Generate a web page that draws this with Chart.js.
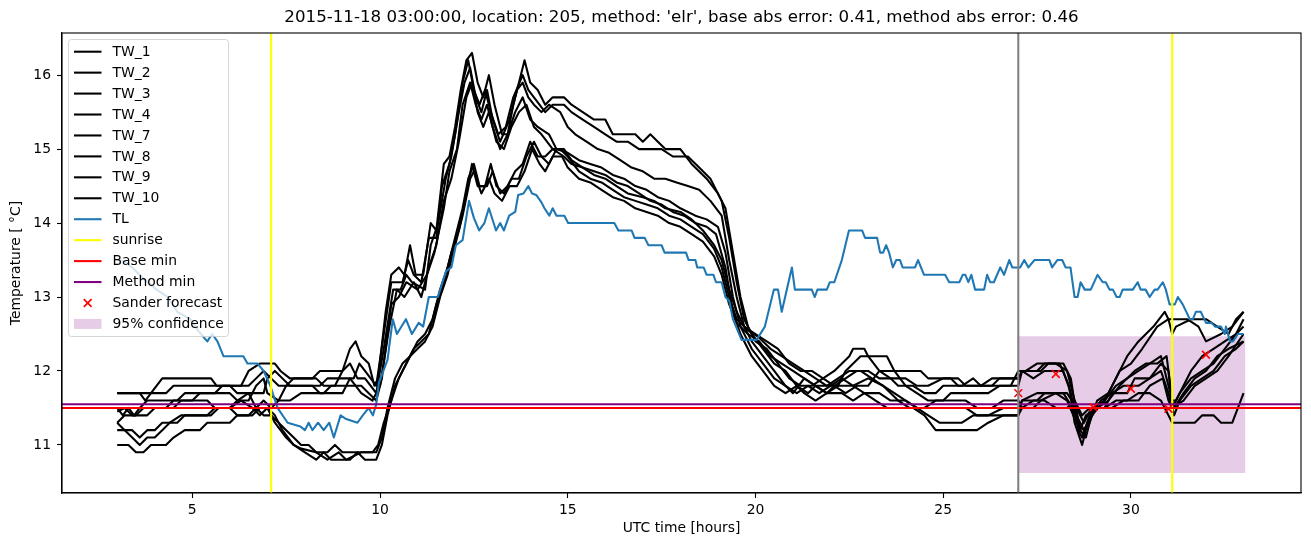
<!DOCTYPE html>
<html><head><meta charset="utf-8">
<script src="https://cdn.jsdelivr.net/npm/chart.js@4.4.0/dist/chart.umd.min.js"></script>
<style>html,body{margin:0;padding:0;background:#fff}canvas{display:block}</style>
</head><body>
<canvas id="c" width="1311" height="547"></canvas>
<script>
// ---------------- DATA ----------------
const titleText = "2015-11-18 03:00:00, location: 205, method: 'elr', base abs error: 0.41, method abs error: 0.46";
const xLabel = "UTC time [hours]";
const yLabel = "Temperature [ \u00B0C]";
const xRange = [1.53, 34.53];
const yRange = [10.35, 16.57];
const xTickStep = 5;
const yTickStep = 1;

const twNames = ['TW_1','TW_2','TW_3','TW_4','TW_7','TW_8','TW_9','TW_10'];

const tw1 = [[3.0,11.7],[3.6,11.7],[3.75,11.6],[3.9,11.7],[4.2,11.9],[5.5,11.9],[5.65,11.8],[6.3,11.8],[6.5,12.0],[6.8,12.1],[7.2,12.1],[7.35,12.0],[7.6,11.9],[8.2,11.9],[8.4,12.0],[9.0,12.0],[9.2,12.3],[9.35,12.4],[9.5,12.2],[9.7,12.1],[9.85,11.8],[9.95,11.9],[10.15,12.8],[10.3,13.3],[10.5,13.4],[10.65,13.3],[10.8,13.7],[10.95,13.3],[11.15,13.3],[11.35,14.0],[11.5,13.9],[11.7,14.8],[11.85,14.9],[12.0,15.3],[12.15,15.8],[12.3,16.2],[12.45,16.3],[12.6,15.9],[12.75,15.7],[12.9,16.0],[13.05,15.6],[13.25,15.2],[13.4,15.2],[13.55,15.6],[13.75,16.0],[13.85,16.2],[14.0,15.9],[14.2,15.8],[14.4,15.6],[14.6,15.7],[14.9,15.7],[15.1,15.6],[15.4,15.5],[15.7,15.4],[16.0,15.4],[16.2,15.2],[16.8,15.2],[17.0,15.1],[17.2,15.2],[17.4,15.1],[17.6,15.0],[18.0,15.0],[18.3,14.8],[18.7,14.6],[19.0,14.4],[19.2,14.2],[19.4,13.6],[19.6,13.0],[19.8,12.6],[20.0,12.4],[20.3,12.3],[20.6,12.1],[20.9,11.9],[21.2,11.8],[21.5,11.8],[21.8,11.9],[22.1,12.0],[22.5,12.2],[22.6,12.3],[22.9,12.3],[23.0,12.2],[23.3,12.0],[23.6,11.9],[23.8,11.8],[24.2,11.8],[24.5,11.7],[24.8,11.7],[25.0,11.8],[25.5,11.8],[25.8,11.9],[26.0,11.8],[26.8,11.8],[27.0,12.0],[27.2,12.0],[27.5,12.1],[28.0,12.1],[28.3,12.0],[28.5,11.6],[28.65,11.2],[28.8,11.1],[29.0,11.5],[29.3,11.6],[29.6,11.9],[29.9,12.2],[30.2,12.4],[30.6,12.6],[30.9,12.8],[31.0,12.7],[31.1,12.5],[31.2,12.6],[31.6,12.7],[32.0,12.7],[32.3,12.6],[32.6,12.5],[32.8,12.7],[33.0,12.8]];
const tw2 = [[3.0,11.7],[4.3,11.7],[4.5,11.8],[6.0,11.8],[6.2,11.7],[6.9,11.7],[7.0,11.9],[7.2,12.0],[7.4,11.9],[7.6,11.8],[8.4,11.8],[8.6,11.9],[9.3,11.9],[9.45,12.1],[9.6,12.0],[9.9,11.8],[10.1,12.5],[10.3,13.2],[10.6,13.2],[10.75,13.5],[10.9,13.3],[11.1,13.2],[11.3,13.8],[11.5,13.8],[11.65,14.5],[11.85,14.8],[12.0,15.2],[12.2,15.9],[12.35,16.2],[12.5,15.8],[12.65,15.6],[12.8,15.8],[12.95,15.5],[13.15,15.2],[13.35,15.3],[13.55,15.7],[13.8,16.0],[13.95,15.8],[14.1,15.7],[14.4,15.5],[14.6,15.6],[14.9,15.6],[15.1,15.5],[15.4,15.4],[15.7,15.3],[16.0,15.2],[16.3,15.1],[16.6,15.1],[16.9,15.0],[17.5,15.0],[17.8,14.9],[18.2,14.9],[18.5,14.75],[18.8,14.6],[19.1,14.3],[19.3,13.8],[19.5,13.2],[19.7,12.7],[19.9,12.5],[20.2,12.3],[20.5,12.1],[20.8,12.0],[21.1,11.8],[21.4,11.7],[21.6,11.8],[22.2,11.8],[22.4,12.0],[22.8,12.2],[23.5,12.2],[23.7,12.0],[24.4,12.0],[24.6,11.9],[25.2,11.9],[25.4,11.8],[26.3,11.8],[26.5,11.9],[27.0,11.9],[27.1,12.0],[27.6,12.0],[27.8,12.1],[28.2,12.1],[28.4,11.9],[28.55,11.4],[28.75,11.2],[28.9,11.3],[29.1,11.6],[29.4,11.7],[29.7,12.0],[30.0,12.1],[30.3,12.3],[30.7,12.6],[31.0,12.7],[31.5,12.7],[31.8,12.6],[32.0,12.4],[32.4,12.5],[32.7,12.6],[33.0,12.8]];
const tw3 = [[3.0,11.2],[3.2,11.2],[3.4,11.1],[3.6,11.0],[3.8,11.1],[4.0,11.1],[4.2,11.2],[4.4,11.3],[4.7,11.4],[5.5,11.4],[5.7,11.5],[6.0,11.5],[6.2,11.4],[6.5,11.4],[6.7,11.5],[6.9,11.4],[7.1,11.4],[7.3,11.3],[7.5,11.2],[7.7,11.1],[7.9,11.0],[8.1,11.0],[8.3,10.9],[8.6,10.9],[8.8,11.0],[9.0,10.9],[9.8,10.9],[9.95,11.0],[10.1,11.3],[10.3,11.6],[10.5,11.9],[10.7,12.1],[10.9,12.3],[11.1,12.4],[11.3,12.5],[11.5,12.9],[11.7,13.2],[11.9,13.6],[12.1,13.9],[12.3,14.4],[12.45,14.8],[12.6,14.5],[12.8,14.5],[12.95,14.8],[13.1,14.5],[13.3,14.4],[13.5,14.6],[13.7,14.6],[13.9,14.9],[14.1,15.1],[14.3,14.9],[14.5,14.8],[14.7,15.0],[14.9,15.0],[15.1,14.85],[15.4,14.75],[15.7,14.65],[16.0,14.6],[16.3,14.5],[16.6,14.4],[17.0,14.35],[17.3,14.3],[17.6,14.2],[18.0,14.15],[18.3,14.05],[18.6,13.9],[18.9,13.7],[19.1,13.5],[19.3,13.1],[19.5,12.8],[19.7,12.6],[20.0,12.5],[20.3,12.4],[20.6,12.3],[20.9,12.1],[21.2,12.0],[21.5,12.0],[21.8,11.9],[22.1,11.8],[22.4,11.9],[22.7,12.0],[23.0,12.0],[23.3,11.9],[23.6,11.9],[24.0,11.9],[24.3,11.8],[24.6,11.8],[25.0,11.9],[25.4,11.9],[25.6,11.8],[26.0,11.8],[26.3,11.9],[27.0,11.9],[27.1,12.0],[27.4,11.9],[27.7,12.0],[28.2,12.0],[28.4,11.7],[28.6,11.2],[28.7,11.1],[28.9,11.4],[29.2,11.6],[29.5,11.7],[29.8,11.8],[30.2,11.8],[30.5,11.9],[30.8,12.1],[31.0,12.0],[31.1,11.5],[31.3,11.7],[31.6,11.9],[31.9,12.0],[32.2,12.1],[32.5,12.3],[32.8,12.5],[33.0,12.7]];
const tw4 = [[3.0,11.5],[3.15,11.4],[3.3,11.5],[3.45,11.4],[3.6,11.5],[3.8,11.6],[4.6,11.6],[4.8,11.7],[5.6,11.7],[5.8,11.8],[6.5,11.8],[6.7,11.9],[6.9,12.0],[7.1,11.9],[7.3,11.8],[7.5,11.8],[7.7,11.9],[8.3,11.9],[8.5,11.8],[8.8,11.8],[9.0,12.0],[9.2,12.1],[9.4,11.9],[9.6,11.9],[9.9,11.7],[10.1,12.3],[10.35,13.1],[10.55,13.1],[10.7,13.3],[10.85,13.2],[11.2,13.1],[11.35,13.7],[11.55,14.0],[11.75,14.6],[11.9,14.9],[12.1,15.5],[12.25,15.9],[12.4,16.1],[12.55,15.7],[12.7,15.5],[12.85,15.8],[13.0,15.4],[13.2,15.1],[13.45,15.4],[13.65,15.8],[13.8,15.9],[13.95,15.7],[14.1,15.6],[14.3,15.5],[14.5,15.6],[14.8,15.5],[15.0,15.3],[15.2,15.2],[15.5,15.1],[15.8,15.0],[16.1,14.95],[16.4,14.85],[16.7,14.75],[17.0,14.7],[17.3,14.6],[17.6,14.6],[17.9,14.55],[18.2,14.5],[18.5,14.45],[18.8,14.3],[19.1,14.1],[19.3,13.5],[19.5,13.0],[19.7,12.6],[19.9,12.4],[20.2,12.2],[20.5,12.0],[20.8,11.8],[21.0,11.7],[21.3,11.9],[21.6,11.8],[21.9,11.7],[22.1,11.8],[22.4,11.7],[22.7,11.8],[23.0,11.8],[23.3,12.0],[23.7,12.0],[24.0,11.8],[24.3,11.7],[24.6,11.6],[25.0,11.6],[25.2,11.7],[26.2,11.7],[26.5,11.8],[27.0,11.8],[27.1,12.0],[27.5,12.0],[27.7,12.1],[28.1,12.1],[28.35,11.8],[28.5,11.3],[28.7,11.0],[28.85,11.3],[29.1,11.5],[29.4,11.6],[29.7,11.8],[30.1,12.0],[30.4,12.1],[30.7,12.1],[30.95,12.2],[31.1,11.6],[31.2,11.6],[31.4,11.8],[31.6,12.0],[31.9,12.2],[32.2,12.3],[32.5,12.4],[32.8,12.5],[33.0,12.6]];
const tw7 = [[3.0,11.45],[3.2,11.5],[3.4,11.4],[3.8,11.4],[4.0,11.5],[4.3,11.5],[4.5,11.6],[5.0,11.6],[5.2,11.7],[6.0,11.7],[6.2,11.6],[6.5,11.6],[6.7,11.8],[6.9,11.9],[7.0,11.7],[7.3,11.6],[7.6,11.6],[7.9,11.7],[8.5,11.7],[8.7,11.8],[9.5,11.8],[9.7,11.7],[9.9,11.6],[10.05,11.9],[10.3,12.9],[10.5,13.0],[10.7,13.2],[11.0,13.1],[11.25,13.3],[11.45,13.6],[11.7,14.2],[11.85,14.7],[12.05,15.0],[12.2,15.6],[12.4,15.9],[12.55,15.6],[12.7,15.4],[12.85,15.6],[13.0,15.3],[13.2,15.0],[13.4,15.2],[13.6,15.5],[13.8,15.7],[14.0,15.4],[14.2,15.3],[14.5,15.2],[14.7,15.0],[15.0,14.95],[15.3,14.85],[15.6,14.8],[15.9,14.75],[16.2,14.65],[16.5,14.6],[16.8,14.5],[17.1,14.45],[17.4,14.35],[17.7,14.3],[18.0,14.2],[18.4,14.1],[18.7,14.05],[19.0,13.95],[19.2,13.6],[19.4,13.0],[19.6,12.6],[19.9,12.3],[20.2,12.1],[20.5,11.9],[20.8,11.8],[21.1,11.7],[21.4,11.8],[21.7,11.7],[22.0,11.8],[22.3,11.9],[22.6,11.8],[23.0,11.9],[23.4,11.8],[23.8,11.6],[24.1,11.5],[24.5,11.5],[24.8,11.6],[25.6,11.6],[25.9,11.5],[26.3,11.5],[26.6,11.6],[27.0,11.6],[27.1,11.5],[27.4,11.5],[27.6,11.6],[28.0,11.7],[28.3,11.7],[28.55,11.5],[28.75,11.3],[28.95,11.5],[29.3,11.5],[29.5,11.7],[29.9,11.7],[30.1,11.9],[30.5,11.9],[30.8,12.0],[31.0,11.7],[31.15,11.4],[31.3,11.6],[31.6,11.8],[31.9,11.9],[32.2,12.0],[32.5,12.2],[32.8,12.3],[33.0,12.4]];
const tw8 = [[3.0,11.0],[3.3,11.0],[3.5,10.9],[3.7,10.9],[3.9,11.0],[4.3,11.0],[4.5,11.1],[4.8,11.2],[5.2,11.2],[5.4,11.3],[6.0,11.3],[6.2,11.4],[6.6,11.4],[6.8,11.5],[7.0,11.5],[7.2,11.4],[7.4,11.2],[7.7,11.0],[8.0,10.9],[8.3,10.8],[8.5,10.9],[8.7,10.8],[9.2,10.8],[9.4,10.9],[9.6,10.8],[9.9,10.8],[10.05,11.0],[10.2,11.4],[10.4,11.8],[10.6,12.0],[10.8,12.2],[11.0,12.3],[11.2,12.4],[11.4,12.6],[11.6,13.0],[11.8,13.3],[12.0,13.7],[12.2,14.1],[12.4,14.6],[12.5,14.7],[12.7,14.4],[12.9,14.6],[13.05,14.4],[13.25,14.3],[13.45,14.5],[13.65,14.5],[13.85,14.7],[14.05,15.0],[14.25,14.8],[14.4,14.7],[14.6,14.9],[14.85,14.9],[15.0,14.75],[15.3,14.6],[15.6,14.55],[15.9,14.45],[16.2,14.35],[16.5,14.3],[16.8,14.2],[17.1,14.15],[17.4,14.1],[17.7,14.0],[18.0,13.95],[18.3,13.85],[18.6,13.75],[18.9,13.55],[19.1,13.3],[19.3,12.9],[19.5,12.65],[19.8,12.5],[20.1,12.4],[20.4,12.2],[20.7,12.1],[21.0,12.0],[21.3,11.9],[21.6,11.8],[21.9,11.7],[22.2,11.8],[22.6,11.8],[22.9,11.7],[23.2,11.6],[23.5,11.5],[24.2,11.5],[24.5,11.4],[24.8,11.2],[25.9,11.2],[26.2,11.3],[26.6,11.4],[27.0,11.4],[27.1,11.5],[27.4,11.6],[27.7,11.6],[28.0,11.5],[28.3,11.5],[28.5,11.6],[28.7,11.4],[28.9,11.5],[29.3,11.5],[29.6,11.6],[29.9,11.6],[30.2,11.7],[30.5,11.7],[30.8,11.6],[31.0,11.4],[31.1,11.3],[31.5,11.3],[31.7,11.3],[31.9,11.4],[32.2,11.4],[32.4,11.3],[32.7,11.3],[32.85,11.5],[33.0,11.7]];
const tw9 = [[3.0,11.3],[3.2,11.4],[3.5,11.4],[3.7,11.5],[4.5,11.5],[4.7,11.6],[5.4,11.6],[5.6,11.5],[6.0,11.5],[6.2,11.6],[6.5,11.7],[6.7,11.5],[6.9,11.6],[7.1,11.5],[7.3,11.6],[7.5,11.8],[8.2,11.8],[8.4,11.7],[9.0,11.7],[9.2,11.9],[9.5,11.7],[9.8,11.6],[10.0,11.8],[10.25,12.6],[10.45,13.1],[10.65,13.0],[10.9,13.2],[11.1,13.0],[11.3,13.4],[11.5,13.7],[11.7,14.3],[11.9,14.6],[12.1,15.1],[12.3,15.7],[12.45,15.9],[12.6,15.5],[12.75,15.3],[12.9,15.5],[13.1,15.1],[13.3,15.0],[13.5,15.3],[13.7,15.5],[13.9,15.6],[14.1,15.3],[14.3,15.2],[14.6,15.0],[14.9,14.9],[15.1,14.8],[15.4,14.75],[15.7,14.7],[16.0,14.65],[16.3,14.55],[16.6,14.5],[16.9,14.4],[17.2,14.3],[17.5,14.25],[17.8,14.15],[18.1,14.1],[18.4,14.0],[18.7,13.95],[18.95,13.85],[19.2,13.4],[19.4,12.8],[19.6,12.5],[19.9,12.2],[20.2,12.0],[20.5,11.8],[20.8,11.7],[21.1,11.8],[21.3,11.7],[21.6,11.6],[21.9,11.7],[22.3,11.7],[22.6,11.6],[22.9,11.7],[23.3,11.7],[23.6,11.6],[24.0,11.6],[24.3,11.5],[25.6,11.5],[25.9,11.4],[26.5,11.4],[27.0,11.4],[27.1,11.6],[27.5,11.6],[27.7,11.7],[28.2,11.7],[28.45,11.5],[28.65,11.2],[28.8,11.4],[29.1,11.5],[29.5,11.5],[29.8,11.6],[30.2,11.6],[30.5,11.8],[30.85,11.9],[31.0,11.6],[31.1,11.5],[31.4,11.6],[31.7,11.8],[32.0,11.9],[32.3,12.0],[32.6,12.2],[33.0,12.5]];
const tw10 = [[3.0,11.3],[3.2,11.2],[3.4,11.2],[3.6,11.1],[3.8,11.2],[4.0,11.2],[4.2,11.3],[4.6,11.3],[4.8,11.4],[5.4,11.4],[5.6,11.5],[6.0,11.5],[6.3,11.6],[6.6,11.5],[6.8,11.4],[7.0,11.5],[7.2,11.3],[7.5,11.1],[7.7,11.0],[7.9,10.95],[8.3,10.9],[8.6,10.8],[8.9,10.9],[9.1,10.8],[9.5,10.9],[9.9,10.9],[10.05,11.1],[10.2,11.5],[10.4,11.9],[10.6,12.1],[10.8,12.2],[11.0,12.4],[11.2,12.5],[11.4,12.7],[11.6,13.1],[11.8,13.4],[12.0,13.8],[12.2,14.2],[12.35,14.6],[12.5,14.8],[12.65,14.5],[12.85,14.5],[13.0,14.7],[13.2,14.4],[13.4,14.5],[13.6,14.7],[13.8,14.8],[14.0,15.1],[14.2,14.9],[14.4,14.9],[14.6,15.0],[14.8,15.0],[15.0,14.9],[15.3,14.7],[15.6,14.6],[15.9,14.55],[16.2,14.45],[16.5,14.35],[16.8,14.3],[17.1,14.25],[17.4,14.2],[17.7,14.1],[18.0,14.05],[18.3,13.95],[18.6,13.85],[18.9,13.65],[19.1,13.4],[19.3,13.0],[19.5,12.7],[19.8,12.55],[20.1,12.45],[20.4,12.3],[20.7,12.2],[21.0,12.1],[21.3,12.0],[21.6,11.9],[21.9,11.8],[22.2,11.9],[22.5,12.0],[22.8,12.0],[23.1,11.9],[23.4,11.8],[23.7,11.7],[24.0,11.6],[24.3,11.5],[24.6,11.4],[24.9,11.3],[25.5,11.3],[25.8,11.4],[26.2,11.4],[26.6,11.5],[27.0,11.5],[27.1,11.6],[27.5,11.7],[28.0,11.7],[28.3,11.6],[28.55,11.3],[28.75,11.2],[28.95,11.4],[29.3,11.6],[29.6,11.8],[29.9,11.9],[30.2,12.0],[30.5,12.1],[30.8,12.2],[31.0,11.8],[31.15,11.5],[31.4,11.7],[31.7,11.9],[32.0,12.0],[32.3,12.2],[32.6,12.3],[33.0,12.4]];

const tl = [[3.0,13.5],[3.1,13.5],[3.4,13.4],[3.7,13.25],[4.05,13.1],[4.35,13.0],[4.6,12.8],[4.95,12.7],[5.15,12.55],[5.4,12.4],[5.53,12.5],[5.67,12.4],[5.83,12.2],[6.36,12.2],[6.47,12.1],[6.74,12.1],[6.9,12.0],[7.08,11.8],[7.27,11.5],[7.54,11.3],[7.88,11.25],[8.0,11.2],[8.1,11.3],[8.2,11.2],[8.35,11.3],[8.5,11.2],[8.65,11.3],[8.77,11.1],[8.95,11.4],[9.1,11.35],[9.4,11.3],[9.54,11.4],[9.7,11.5],[9.81,11.4],[9.9,11.55],[9.97,11.84],[10.2,12.15],[10.34,12.7],[10.45,12.5],[10.69,12.7],[10.85,12.5],[11.03,12.65],[11.15,12.6],[11.3,13.0],[11.54,13.0],[11.76,13.35],[11.9,13.4],[12.02,13.7],[12.2,13.77],[12.37,14.3],[12.5,14.07],[12.64,13.9],[12.78,14.0],[12.9,14.2],[13.09,13.9],[13.2,14.0],[13.3,13.9],[13.44,14.1],[13.6,14.15],[13.68,14.38],[13.82,14.4],[13.95,14.5],[14.05,14.4],[14.16,14.38],[14.3,14.28],[14.38,14.2],[14.51,14.1],[14.6,14.2],[14.7,14.1],[14.91,14.1],[15.01,14.0],[16.24,14.0],[16.35,13.9],[16.7,13.9],[16.78,13.8],[17.05,13.8],[17.15,13.7],[17.5,13.7],[17.58,13.6],[18.15,13.6],[18.22,13.5],[18.4,13.5],[18.45,13.4],[18.62,13.4],[18.7,13.3],[18.88,13.3],[18.95,13.2],[19.1,13.2],[19.2,13.0],[19.3,12.95],[19.4,12.7],[19.63,12.42],[20.03,12.42],[20.25,12.6],[20.49,13.1],[20.6,13.1],[20.7,12.8],[20.97,13.4],[21.05,13.1],[21.5,13.1],[21.58,13.0],[21.65,13.1],[21.9,13.1],[21.98,13.2],[22.1,13.2],[22.3,13.5],[22.49,13.9],[22.84,13.9],[22.92,13.8],[23.24,13.8],[23.32,13.6],[23.4,13.6],[23.48,13.7],[23.56,13.6],[23.66,13.4],[23.75,13.5],[23.85,13.5],[23.92,13.4],[24.25,13.4],[24.33,13.5],[24.49,13.3],[25.05,13.3],[25.16,13.2],[25.43,13.2],[25.52,13.3],[25.59,13.3],[25.67,13.2],[25.75,13.3],[25.85,13.1],[26.09,13.1],[26.17,13.3],[26.25,13.2],[26.35,13.2],[26.52,13.4],[26.62,13.3],[26.76,13.5],[26.84,13.4],[27.05,13.4],[27.16,13.5],[27.27,13.4],[27.43,13.5],[27.83,13.5],[27.9,13.4],[28.04,13.5],[28.17,13.5],[28.26,13.4],[28.39,13.4],[28.5,13.0],[28.58,13.0],[28.66,13.2],[28.77,13.1],[28.93,13.1],[29.11,13.3],[29.25,13.2],[29.33,13.2],[29.43,13.1],[29.52,13.1],[29.62,13.0],[29.7,13.0],[29.78,13.1],[30.05,13.1],[30.18,13.2],[30.26,13.1],[30.39,13.1],[30.5,13.0],[30.63,13.1],[30.71,13.1],[30.85,13.2],[30.93,13.1],[31.03,12.9],[31.17,12.9],[31.25,13.0],[31.38,12.9],[31.57,12.7],[31.65,12.7],[31.73,12.8],[31.86,12.8],[32.0,12.65],[32.15,12.65],[32.24,12.6],[32.4,12.6],[32.5,12.5],[32.53,12.6],[32.64,12.4],[32.72,12.4],[32.85,12.5],[33.0,12.5]];

const sunriseHours = [7.1, 31.1];
const baseMin = 11.5;
const methodMin = 11.55;
const forecastStartHour = 27.0;
const sanderHours = [27, 28, 29, 30, 31, 32];
const sanderValues = [11.7, 11.96, 11.51, 11.76, 11.49, 12.22];
const confHours = [27.0, 33.05];
const confLow = 10.62;
const confHigh = 12.47;

// ---------------- CHART ----------------
const FONT = "'DejaVu Sans', sans-serif";
Chart.defaults.font.family = FONT;
Chart.defaults.color = '#000';

const toXY = arr => arr.map(p => ({x: p[0], y: p[1]}));
const twSeries = [tw1, tw2, tw3, tw4, tw7, tw8, tw9, tw10];
const LW = 2.08;

const datasets = [];
twSeries.forEach((s, i) => datasets.push({
  label: twNames[i], data: toXY(s), borderColor: '#000', borderWidth: LW,
  pointRadius: 0, tension: 0, fill: false, order: 90, borderJoinStyle: 'round'
}));
datasets.push({label: 'TL', data: toXY(tl), borderColor: '#1f77b4', borderWidth: LW,
  pointRadius: 0, tension: 0, fill: false, order: 80, borderJoinStyle: 'round'});
const vlinePts = [];
sunriseHours.forEach((h, i) => {
  if (i > 0) vlinePts.push({x: h, y: null});
  vlinePts.push({x: h, y: yRange[0] - 1}, {x: h, y: yRange[1] + 1});
});
datasets.push({label: 'sunrise', data: vlinePts, borderColor: '#ffff00', borderWidth: LW,
  pointRadius: 0, spanGaps: false, order: 70});
datasets.push({label: 'Base min', data: [{x: xRange[0] - 1, y: baseMin}, {x: xRange[1] + 1, y: baseMin}],
  borderColor: '#ff0000', borderWidth: LW, pointRadius: 0, order: 60});
datasets.push({label: 'Method min', data: [{x: xRange[0] - 1, y: methodMin}, {x: xRange[1] + 1, y: methodMin}],
  borderColor: '#800080', borderWidth: LW, pointRadius: 0, order: 50});
datasets.push({label: 'Sander forecast', type: 'scatter', data: sanderHours.map((h, i) => ({x: h, y: sanderValues[i]})),
  pointStyle: 'crossRot', pointRadius: 5.5, pointBorderWidth: 1.6, borderColor: '#ff0000', backgroundColor: '#ff0000',
  showLine: false, order: 40});
datasets.push({label: '95% confidence', data: [{x: confHours[0], y: confHigh}, {x: confHours[1], y: confHigh}],
  borderWidth: 0, borderColor: 'rgba(0,0,0,0)', backgroundColor: 'rgba(128,0,128,0.2)', pointRadius: 0,
  fill: {value: confLow}, order: 100});
datasets.push({label: 'forecast start', data: [{x: forecastStartHour, y: yRange[0] - 1}, {x: forecastStartHour, y: yRange[1] + 1}],
  borderColor: '#808080', borderWidth: LW, pointRadius: 0, order: 30});

const legendItems = [
  ...twNames.map(n => ({label: n, kind: 'line', color: '#000'})),
  {label: 'TL', kind: 'line', color: '#1f77b4'},
  {label: 'sunrise', kind: 'line', color: '#ffff00'},
  {label: 'Base min', kind: 'line', color: '#ff0000'},
  {label: 'Method min', kind: 'line', color: '#800080'},
  {label: 'Sander forecast', kind: 'marker', color: '#ff0000'},
  {label: '95% confidence', kind: 'patch', color: 'rgba(128,0,128,0.2)'}
];

const decor = {
  id: 'decor',
  afterDraw(chart) {
    const ctx = chart.ctx, a = chart.chartArea;
    ctx.save();
    // frame
    ctx.strokeStyle = '#000'; ctx.lineWidth = 1.1;
    ctx.strokeRect(a.left, a.top, a.right - a.left, a.bottom - a.top);
    // title
    ctx.fillStyle = '#000';
    ctx.font = '16.67px ' + FONT;
    ctx.textAlign = 'center'; ctx.textBaseline = 'middle';
    ctx.fillText(titleText, (a.left + a.right) / 2, 18);
    // legend
    const L = a.left + 6.5, T = a.top + 6.5, W = 160, H = 297, r = 3;
    ctx.beginPath();
    ctx.moveTo(L + r, T); ctx.lineTo(L + W - r, T); ctx.quadraticCurveTo(L + W, T, L + W, T + r);
    ctx.lineTo(L + W, T + H - r); ctx.quadraticCurveTo(L + W, T + H, L + W - r, T + H);
    ctx.lineTo(L + r, T + H); ctx.quadraticCurveTo(L, T + H, L, T + H - r);
    ctx.lineTo(L, T + r); ctx.quadraticCurveTo(L, T, L + r, T); ctx.closePath();
    ctx.fillStyle = 'rgba(255,255,255,0.8)'; ctx.fill();
    ctx.strokeStyle = 'rgba(204,204,204,0.8)'; ctx.lineWidth = 1; ctx.stroke();
    ctx.font = '13.9px ' + FONT; ctx.textAlign = 'left'; ctx.textBaseline = 'middle';
    legendItems.forEach((it, i) => {
      const y = T + 12.2 + i * 20.94;
      if (it.kind === 'line') {
        ctx.strokeStyle = it.color; ctx.lineWidth = LW; ctx.beginPath();
        ctx.moveTo(L + 5.5, y); ctx.lineTo(L + 33, y); ctx.stroke();
      } else if (it.kind === 'marker') {
        const cx = L + 19.2, s = 3.9;
        ctx.strokeStyle = it.color; ctx.lineWidth = 1.6; ctx.beginPath();
        ctx.moveTo(cx - s, y - s); ctx.lineTo(cx + s, y + s);
        ctx.moveTo(cx - s, y + s); ctx.lineTo(cx + s, y - s); ctx.stroke();
      } else {
        ctx.fillStyle = it.color; ctx.fillRect(L + 5.5, y - 5, 27.5, 10);
      }
      ctx.fillStyle = '#000';
      ctx.fillText(it.label, L + 44, y + 0.5);
    });
    ctx.restore();
  }
};

new Chart(document.getElementById('c'), {
  type: 'line',
  data: {datasets},
  options: {
    responsive: false, animation: false, devicePixelRatio: 1,
    layout: {padding: {top: 33, right: 10, left: 0, bottom: 0}},
    plugins: {legend: {display: false}, tooltip: {enabled: false}, title: {display: false}},
    scales: {
      x: {
        type: 'linear', min: xRange[0], max: xRange[1],
        afterFit: s => { s.height = 54; },
        ticks: {stepSize: xTickStep, includeBounds: false, font: {size: 13.9}, color: '#000', padding: 4, maxRotation: 0},
        grid: {display: true, drawOnChartArea: false, drawTicks: true, tickLength: 5, color: '#000', tickWidth: 1.1},
        border: {display: true, color: '#000', width: 1.1},
        title: {display: true, text: xLabel, font: {size: 13.9}, color: '#000', padding: {top: 0, bottom: 10}}
      },
      y: {
        type: 'linear', min: yRange[0], max: yRange[1],
        afterFit: s => { s.width = 62; },
        ticks: {stepSize: yTickStep, includeBounds: false, font: {size: 13.9}, color: '#000', padding: 6},
        grid: {display: true, drawOnChartArea: false, drawTicks: true, tickLength: 5, color: '#000', tickWidth: 1.1},
        border: {display: true, color: '#000', width: 1.1},
        title: {display: true, text: yLabel, font: {size: 13.9}, color: '#000', padding: {top: 8, bottom: 0}}
      }
    }
  },
  plugins: [decor]
});
</script>
</body></html>
